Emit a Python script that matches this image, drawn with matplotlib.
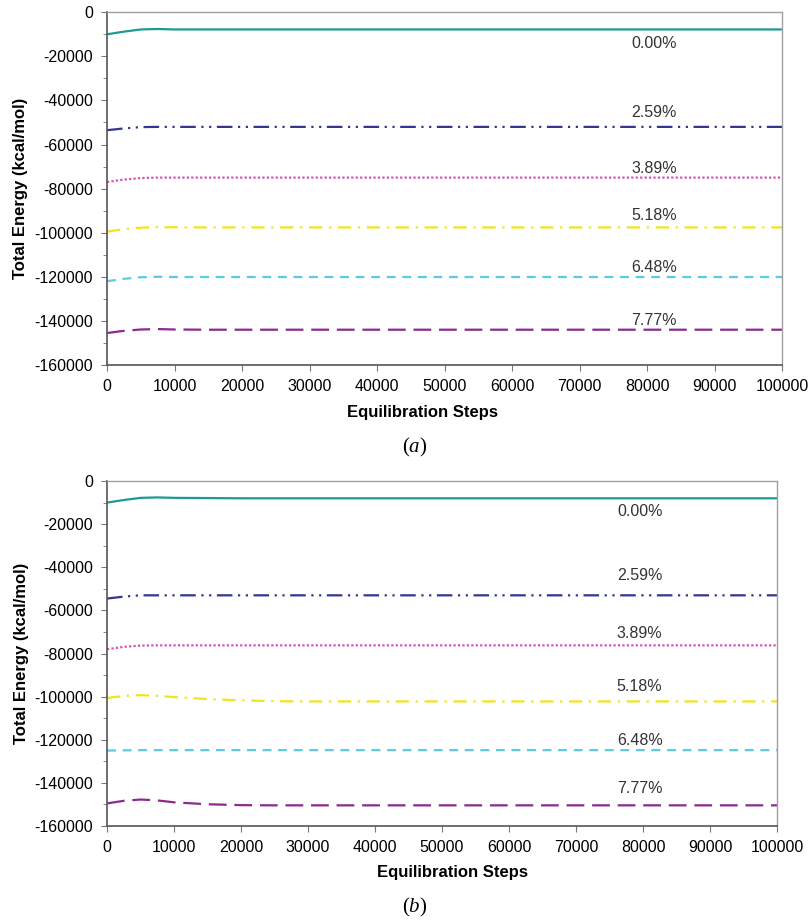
import matplotlib.pyplot as plt
import numpy as np

plt.rcParams['font.family'] = ['Liberation Sans', 'DejaVu Sans']
plt.rcParams['axes.unicode_minus'] = False
plt.rcParams['mathtext.fontset'] = 'custom'
plt.rcParams['mathtext.rm'] = 'Liberation Serif'
plt.rcParams['mathtext.it'] = 'Liberation Serif:italic'

# equilibration steps at which energies were read
steps = [0, 2500, 5000, 7500, 10000, 15000, 20000, 25000, 30000, 50000, 75000, 100000]

labels = ["0.00%", "2.59%", "3.89%", "5.18%", "6.48%", "7.77%"]
colors = ["#1f9a93", "#36368f", "#d452b8", "#f2e41c", "#5ccbe2", "#8c2a8e"]
styles = ["-", (0, (7, 2.5, 1, 2.5, 1, 2.5)), (0, (1, 1)), (0, (6, 3, 1, 3)),
          (0, (4, 3)), (0, (8, 3.5))]

# panel (a)
energy_a = [
    [-10000, -8800, -7800, -7600, -7800, -7800, -7800, -7800, -7800, -7800, -7800, -7800],
    [-53500, -52700, -52100, -52000, -52000, -52000, -52000, -52000, -52000, -52000, -52000, -52000],
    [-77000, -75900, -75200, -75000, -75000, -75000, -75000, -75000, -75000, -75000, -75000, -75000],
    [-99500, -98400, -97700, -97500, -97500, -97600, -97600, -97600, -97600, -97600, -97600, -97600],
    [-122000, -120900, -120200, -120000, -120100, -120100, -120100, -120100, -120100, -120100, -120100, -120100],
    [-145500, -144500, -143900, -143700, -143900, -144000, -144000, -144000, -144000, -144000, -144000, -144000],
]
label_x_a = 81000
label_y_a = [-14000, -45300, -70700, -92000, -116000, -139600]

# panel (b)
energy_b = [
    [-10000, -8800, -7800, -7600, -7800, -7900, -8000, -8000, -8000, -8000, -8000, -8000],
    [-54500, -53600, -53000, -53000, -53000, -53000, -53000, -53000, -53000, -53000, -53000, -53000],
    [-78000, -76900, -76300, -76200, -76200, -76200, -76200, -76200, -76200, -76200, -76200, -76200],
    [-100600, -99700, -99300, -99600, -100200, -101100, -101700, -102100, -102200, -102200, -102200, -102200],
    [-125000, -124900, -124800, -124800, -124800, -124800, -124800, -124800, -124800, -124800, -124800, -124800],
    [-149500, -148300, -147700, -148100, -149000, -149900, -150300, -150400, -150400, -150400, -150400, -150400],
]
label_x_b = 79500
label_y_b = [-13900, -43600, -70500, -95100, -120100, -142800]


def draw_panel(ax, energy, label_x, label_y, xlab_pos):
    for i in range(len(labels)):
        ax.plot(steps, energy[i], color=colors[i], linestyle=styles[i], lw=1.6)
        ax.text(label_x, label_y[i], labels[i], ha="center", va="center",
                fontsize=11.5, color="#333333")
    ax.set_xlim(0, 100000)
    ax.set_ylim(-160000, 0)
    ax.set_xticks(np.arange(0, 100001, 10000))
    ax.set_yticks(np.arange(-160000, 1, 20000))
    ax.set_yticks(np.arange(-150000, 0, 20000), minor=True)
    ax.tick_params(axis="both", labelsize=11.5, direction="out", color="#777777",
                   length=4, pad=6)
    ax.tick_params(axis="y", which="minor", length=3, color="#777777")
    ax.set_xlabel("Equilibration Steps", fontsize=12, fontweight="bold")
    ax.set_ylabel("Total Energy (kcal/mol)", fontsize=12, fontweight="bold")
    ax.xaxis.set_label_coords(xlab_pos, -0.113)
    ax.yaxis.set_label_coords(-0.117, 0.5)
    for side in ["left", "bottom"]:
        ax.spines[side].set_color("#555555")
        ax.spines[side].set_linewidth(1.2)
    for side in ["top", "right"]:
        ax.spines[side].set_color("#a0a0a0")
        ax.spines[side].set_linewidth(1.0)


fig = plt.figure(figsize=(8.12, 9.21), dpi=100)
ax1 = fig.add_axes([0.1318, 0.6037, 0.8313, 0.383])
ax2 = fig.add_axes([0.1318, 0.1031, 0.8251, 0.3746])

draw_panel(ax1, energy_a, label_x_a, label_y_a, 0.468)
draw_panel(ax2, energy_b, label_x_b, label_y_b, 0.515)

fig.text(415 / 812, 1 - 447 / 921, r"$(\mathit{a})$", fontsize=15, ha="center", va="center")
fig.text(415 / 812, 1 - 907 / 921, r"$(\mathit{b})$", fontsize=15, ha="center", va="center")

fig.savefig("out.png", dpi=100)
